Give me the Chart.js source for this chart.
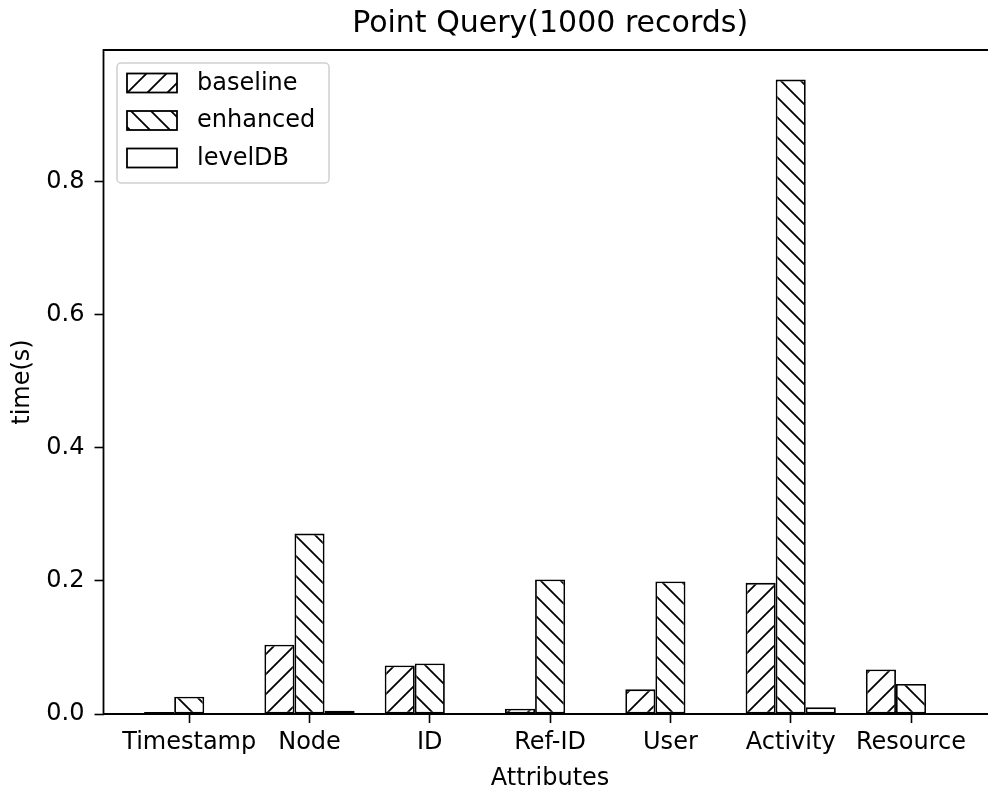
<!DOCTYPE html>
<html>
<head>
<meta charset="utf-8">
<title>Point Query</title>
<script src="https://cdn.jsdelivr.net/npm/chart.js@4.4.1/dist/chart.umd.min.js"></script>
<style>
  html, body { margin: 0; padding: 0; background: #fff; overflow: hidden; }
</style>
</head>
<body>
<canvas id="chart" width="988" height="791"></canvas>
<script>
const categories = ["Timestamp", "Node", "ID", "Ref-ID", "User", "Activity", "Resource"];
const baseline = [0.003, 0.104, 0.073, 0.008, 0.037, 0.197, 0.067];
const enhanced = [0.026, 0.271, 0.076, 0.202, 0.199, 0.953, 0.045];
const levelDB = [0.001, 0.005, 0.001, 0.001, 0.001, 0.010, 0.001];
const yTicks = [0.0, 0.2, 0.4, 0.6, 0.8];

Chart.defaults.font.family = "'DejaVu Sans', sans-serif";
Chart.defaults.color = "#000";

// hatch fill: white tile with one diagonal line, repeated
function hatch(dir) {
  const s = 20;
  const c = document.createElement("canvas");
  c.width = s; c.height = s;
  const g = c.getContext("2d");
  g.fillStyle = "#fff";
  g.fillRect(0, 0, s, s);
  if (dir) {
    g.strokeStyle = "#000";
    g.lineWidth = 1.8;
    g.beginPath();
    for (const k of [-s, 0, s]) {
      if (dir === "/") { g.moveTo(k - 2, s + 2); g.lineTo(k + s + 2, -2); }
      else { g.moveTo(k - 2, -2); g.lineTo(k + s + 2, s + 2); }
    }
    g.stroke();
  }
  return g.createPattern(c, "repeat");
}

function points(arr) {
  return arr.map(function (v, i) { return { x: i, y: v }; });
}

const xMin = -0.7125, xFullMax = 6.7125;

// legend box drawn inside the plot, top left
const boxLegend = {
  id: "boxLegend",
  afterDraw(chart) {
    const ctx = chart.ctx;
    const a = chart.chartArea;
    const x0 = a.left + 13.5, y0 = a.top + 13;
    ctx.save();
    ctx.beginPath();
    ctx.roundRect(x0, y0, 212, 120, 4);
    ctx.fillStyle = "rgba(255,255,255,0.8)";
    ctx.fill();
    ctx.strokeStyle = "#d0d0d0";
    ctx.lineWidth = 1.5;
    ctx.stroke();
    ctx.font = "24px 'DejaVu Sans'";
    ctx.textBaseline = "middle";
    chart.data.datasets.forEach(function (ds, i) {
      const py = y0 + 10.5 + i * 37.5;
      ctx.fillStyle = ds.backgroundColor;
      ctx.fillRect(x0 + 10, py, 50, 19);
      ctx.strokeStyle = "#000";
      ctx.lineWidth = 1.8;
      ctx.strokeRect(x0 + 10, py, 50, 19);
      ctx.fillStyle = "#000";
      ctx.fillText(ds.label, x0 + 80, py + 10);
    });
    ctx.restore();
  }
};

// left, top and bottom spines drawn over the bars; the plot runs on past the right edge
const frame = {
  id: "frame",
  afterDatasetsDraw(chart) {
    const ctx = chart.ctx;
    const a = chart.chartArea;
    ctx.save();
    ctx.strokeStyle = "#000";
    ctx.lineWidth = 1.8;
    ctx.beginPath();
    ctx.moveTo(chart.width + 2, a.top);
    ctx.lineTo(a.left, a.top);
    ctx.lineTo(a.left, a.bottom);
    ctx.lineTo(chart.width + 2, a.bottom);
    ctx.stroke();
    ctx.restore();
  }
};

// plot title and x axis label, centred on the middle of the full x range
const centredText = {
  id: "centredText",
  afterDraw(chart) {
    const ctx = chart.ctx;
    const x = chart.scales.x.getPixelForValue((xMin + xFullMax) / 2);
    ctx.save();
    ctx.fillStyle = "#000";
    ctx.textAlign = "center";
    ctx.textBaseline = "middle";
    ctx.font = "30px 'DejaVu Sans'";
    ctx.fillText("Point Query(1000 records)", x, 24);
    ctx.font = "24px 'DejaVu Sans'";
    ctx.fillText("Attributes", x, 779);
    ctx.restore();
  }
};

const barStyle = {
  borderColor: "#000",
  borderWidth: 1.8,
  borderSkipped: false,
  categoryPercentage: 0.75,
  barPercentage: 1.0
};

new Chart(document.getElementById("chart").getContext("2d"), {
  type: "bar",
  data: {
    datasets: [
      Object.assign({ label: "baseline", data: points(baseline), backgroundColor: hatch("/") }, barStyle),
      Object.assign({ label: "enhanced", data: points(enhanced), backgroundColor: hatch("\\") }, barStyle),
      Object.assign({ label: "levelDB", data: points(levelDB), backgroundColor: hatch(null) }, barStyle)
    ]
  },
  options: {
    responsive: false,
    animation: false,
    devicePixelRatio: 1,
    layout: { padding: { left: 0, top: 50, bottom: 0, right: 0 } },
    plugins: {
      legend: { display: false },
      tooltip: { enabled: false },
      title: { display: false }
    },
    scales: {
      x: {
        type: "linear",
        min: xMin,
        max: 6.64,
        offset: false,
        afterFit: function (s) { s.height = 77; },
        afterBuildTicks: function (s) {
          s.ticks = categories.map(function (c, i) { return { value: i }; });
        },
        ticks: {
          autoSkip: false,
          maxRotation: 0,
          padding: 5,
          font: { size: 24 },
          callback: function (v) { return categories[v]; }
        },
        grid: { display: true, drawOnChartArea: false, drawTicks: true, tickLength: 9, tickWidth: 1.6, tickColor: "#000", offset: false },
        border: { display: false },
        title: { display: false }
      },
      y: {
        min: 0,
        max: 0.9975,
        afterFit: function (s) { s.width = 103.5; },
        afterBuildTicks: function (s) {
          s.ticks = yTicks.map(function (v) { return { value: v }; });
        },
        ticks: {
          padding: 10,
          font: { size: 24 },
          callback: function (v) { return v.toFixed(1); }
        },
        grid: { display: true, drawOnChartArea: false, drawTicks: true, tickLength: 9, tickWidth: 1.6, tickColor: "#000" },
        border: { display: false },
        title: { display: true, text: "time(s)", font: { size: 24 }, padding: { top: 8, bottom: 0 } }
      }
    }
  },
  plugins: [boxLegend, frame, centredText]
});
</script>
</body>
</html>
